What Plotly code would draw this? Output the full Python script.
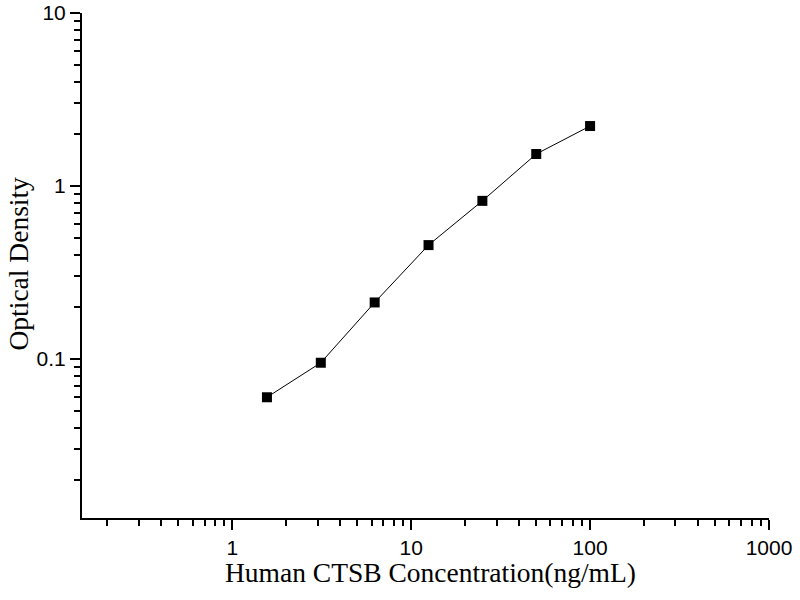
import plotly.graph_objects as go

# standard curve: concentration (ng/mL) vs optical density
conc = [1.5625, 3.125, 6.25, 12.5, 25, 50, 100]
od = [0.060, 0.095, 0.212, 0.455, 0.82, 1.53, 2.22]

x_title = "Human CTSB Concentration(ng/mL)"
y_title = "Optical Density"

fig = go.Figure()
fig.add_trace(go.Scatter(
    x=conc, y=od, mode="lines+markers",
    line=dict(color="black", width=1),
    marker=dict(symbol="square", size=10, color="black"),
    showlegend=False,
))

axis_common = dict(
    type="log", showgrid=False, zeroline=False, automargin=False,
    showline=True, linecolor="black", linewidth=2,
    ticks="outside", ticklen=10, tickwidth=2, tickcolor="black",
    dtick=1, exponentformat="none", ticklabeloverflow="allow",
    tickfont=dict(family="Liberation Sans", size=21, color="black"),
    minor=dict(ticks="outside", ticklen=6, tickwidth=2, tickcolor="black",
               dtick="D1", showgrid=False),
)

fig.update_xaxes(**axis_common, range=[-0.84, 3])
fig.update_yaxes(**axis_common, range=[-1.92, 1])

title_font = dict(family="Liberation Serif", size=27.5, color="black")
fig.add_annotation(text=x_title, xref="paper", yref="paper", x=0.5, y=0,
                   xanchor="center", yanchor="middle", xshift=5, yshift=-54,
                   showarrow=False, font=title_font)
fig.add_annotation(text=y_title, xref="paper", yref="paper", x=0, y=0.5,
                   xanchor="center", yanchor="middle", xshift=-64, yshift=2,
                   textangle=-90, showarrow=False, font=title_font)

fig.update_layout(
    width=800, height=600,
    margin=dict(l=82, r=31, t=13, b=82),
    plot_bgcolor="white", paper_bgcolor="white",
)

# drop the default page margin so the figure sits at the window's corner
fig.write_html("out.html", config={"displayModeBar": False},
               post_script="document.body.style.margin='0';")
